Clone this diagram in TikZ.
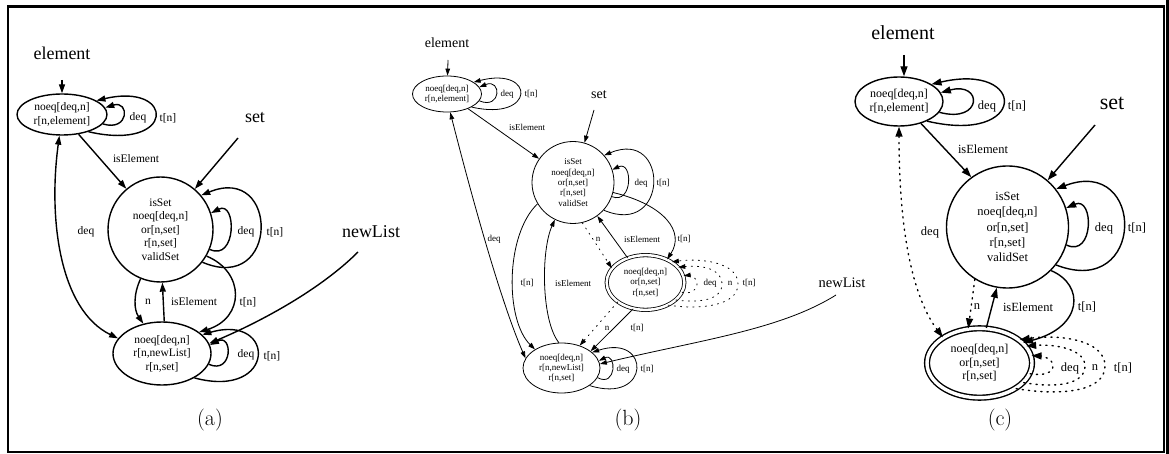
\documentclass[tikz,border=0pt]{standalone}
\usepackage{fontspec}
\newfontfamily\tms{Liberation Serif}
\usetikzlibrary{arrows.meta,shapes.geometric}
\newcommand\gfA{\tms\fontsize{11.5}{13.5}\selectfont}
\newcommand\gfB{\tms\fontsize{9}{10.4}\selectfont}
\newcommand\gfC{\tms\fontsize{12}{13.5}\selectfont}
\newcommand\gfCc{\tms\fontsize{12.5}{15.3}\selectfont}
\newcommand\gfCe{\tms\fontsize{12.5}{14}\selectfont}
\tikzset{
  stell/.style={ellipse, draw, inner sep=0pt, align=center},
  stcirc/.style={circle, draw, inner sep=0pt, align=center},
  lab/.style={inner sep=0pt},
  dotline/.style={dash pattern=on 1.2pt off 5pt, line cap=round},
  panelcap/.style={inner sep=0pt, font=\fontsize{22}{24}\selectfont},
}
\begin{document}
\begin{tikzpicture}[x=1pt,y=-1pt]
\useasboundingbox (0,0) rectangle (1169,454);
% frame
\draw[line width=2.2pt] (8,6.5) rectangle (1164,452);
\fill (1166,0) rectangle (1169,454);

% ---------------- (a) ----------------
\begin{scope}[line width=1.4pt, >={Triangle[length=9pt,width=6pt]},
  every node/.append style={font=\gfA}]
\node[stell, minimum width=90pt, minimum height=41pt] (aE) at (62,114.5) {noeq[deq,n]\\r[n,element]};
\node[stcirc, minimum size=105pt] (aS) at (160.5,229.5) {isSet\\noeq[deq,n]\\or[n,set]\\r[n,set]\\validSet};
\node[stell, minimum width=98pt, minimum height=63pt] (aL) at (162,353.5) {noeq[deq,n]\\r[n,newList]\\r[n,set]};
\node[lab, font=\tms\fontsize{18}{20}\selectfont] (aEl) at (62,53) {element};
\node[lab, font=\tms\fontsize{18}{20}\selectfont] (aSl) at (255,118) {set};
\node[lab, font=\tms\fontsize{18}{20}\selectfont] (aNl) at (371,232) {newList};
\coordinate (aEs) at (62,80);
\coordinate (aSs) at (238,138);
\coordinate (aNs) at (358,252);
\draw[->] (aEs) -- (aE);
\draw[->] (aSs) -- (aS);
\draw[->] (aNs) .. controls (320,290) and (260,322) .. (aL.12);
% loops
\draw[->] (aE.-13) .. controls (129.6,132) and (129.6,100) .. (aE.9);
\draw[->] (aE.-33) .. controls (176,152) and (176,82) .. (aE.22);
\draw[->] (aS.-22) .. controls (236.7,262) and (236.7,200) .. (aS.18);
\draw[->] (aS.-38) .. controls (279.6,295) and (279.6,163) .. (aS.40);
\draw[->] (aL.-13) .. controls (233,375) and (233,333) .. (aL.10);
\draw[->] (aL.-37) .. controls (276.8,400) and (276.8,313) .. (aL.25);
% edges
\draw[->] (aE.-50) -- (aS.130);
\draw[->] (aS.-112) .. controls (133,295) and (134,310) .. (aL.122);
\draw[->] (aL.86) -- (aS.-88);
\draw[->] (aS.-30) .. controls (245,272) and (245,318) .. (aL.30);
\draw[<->] (aE.-97) .. controls (48,220) and (60,310) .. (aL.161);
% labels
\node[lab] (aEd) at (138,118) {deq};
\node[lab] (aEt) at (168,118) {t[n]};
\node[lab] (aSd) at (246,232) {deq};
\node[lab] (aSt) at (275,232) {t[n]};
\node[lab] (aLd) at (246,355) {deq};
\node[lab] (aLt) at (272,356) {t[n]};
\node[lab] (aIe1) at (136,159) {isElement};
\node[lab] (aDq) at (86,232) {deq};
\node[lab] (aN) at (148,302) {n};
\node[lab] (aIe2) at (194,302) {isElement};
\node[lab] (aTn) at (248,302) {t[n]};
\node[panelcap] (aCap) at (210,420) {(a)};
\end{scope}

% ---------------- (b) ----------------
\begin{scope}[line width=0.8pt, >={Triangle[length=7pt,width=4.6pt]},
  every node/.append style={font=\gfB}]
\node[stell, minimum width=69pt, minimum height=36pt] (bE) at (447,94) {noeq[deq,n]\\r[n,element]};
\node[stcirc, minimum size=82pt] (bS) at (573,182.5) {isSet\\noeq[deq,n]\\or[n,set]\\r[n,set]\\validSet};
\node[stell, double, double distance=2.5pt, minimum width=77.7pt, minimum height=54.7pt] (bF) at (645.5,282.5) {noeq[deq,n]\\or[n,set]\\r[n,set]};
\node[stell, minimum width=77pt, minimum height=50pt] (bL) at (561.5,368) {noeq[deq,n]\\r[n,newList]\\r[n,set]};
\node[lab, font=\tms\fontsize{14}{16}\selectfont] (bEl) at (447,43) {element};
\node[lab, font=\tms\fontsize{14}{16}\selectfont] (bSl) at (599,95) {set};
\node[lab, font=\tms\fontsize{14.5}{16}\selectfont] (bNl) at (842,283) {newList};
\coordinate (bEs) at (448,60);
\coordinate (bSs) at (594,110);
\coordinate (bNs) at (836,295);
\draw[->] (bEs) -- (bE);
\draw[->] (bSs) -- (bS);
\draw[->] (bNs) .. controls (780,330) and (700,340) .. (bL.6);
% loops
\draw[->] (bE.-12) .. controls (501.7,110) and (501.7,78) .. (bE.12);
\draw[->] (bE.-28) .. controls (535.9,122) and (535.9,66) .. (bE.24);
\draw[->] (bS.-20) .. controls (633,205) and (633,160) .. (bS.18);
\draw[->] (bS.-42) .. controls (669.4,238) and (669.4,128) .. (bS.41);
\draw[->] (bL.-15) .. controls (616.8,388) and (616.8,352) .. (bL.11);
\draw[->] (bL.-32) .. controls (651.2,405) and (651.2,333) .. (bL.27);
\draw[->, dotline] (bF.-15) .. controls (690,294) and (697,291) .. (697,284)
                             .. controls (697,277) and (690,275) .. (bF.10);
\draw[->, dotline] (bF.-30) .. controls (700,303) and (722,300) .. (722,284)
                             .. controls (722,268) and (700,265) .. (bF.25);
\draw[->, dotline] (bF.-45) .. controls (700,310) and (738,306) .. (738,284)
                             .. controls (738,262) and (700,258) .. (bF.38);
% edges
\draw[->] (bE.-35) -- (bS.145);
\draw[->, dotline] (bS.-77) -- (bF.157);
\draw[->] (bF.126) -- (bS.-54);
\draw[->] (bS.-14) .. controls (665,205) and (685,232) .. (bF.47);
\draw[->, dotline] (bF.-145) -- (bL.51);
\draw[->] (bF.-115) -- (bL.30);
\draw[->] (bS.-149) .. controls (505,235) and (505,320) .. (bL.145);
\draw[->] (bL.96) .. controls (541,320) and (541,250) .. (bS.-116);
\draw[<->] (bE.-80) .. controls (470,190) and (500,300) .. (bL.165);
% labels
\node[lab] (bEd) at (507,94) {deq};
\node[lab] (bEt) at (531,94) {t[n]};
\node[lab] (bSd) at (641,183) {deq};
\node[lab] (bSt) at (663,183) {t[n]};
\node[lab] (bFd) at (710,283) {deq};
\node[lab] (bFn) at (730,283) {n};
\node[lab] (bFt) at (749,283) {t[n]};
\node[lab] (bLd) at (623,369) {deq};
\node[lab] (bLt) at (647,369) {t[n]};
\node[lab] (bIe1) at (527,127) {isElement};
\node[lab] (bN1) at (598,239) {n};
\node[lab] (bIe2) at (642,239) {isElement};
\node[lab] (bT1) at (684,239) {t[n]};
\node[lab] (bN2) at (607,328) {n};
\node[lab] (bT2) at (637,328) {t[n]};
\node[lab] (bT3) at (527,283) {t[n]};
\node[lab] (bIe3) at (573,283) {isElement};
\node[lab] (bDq) at (494,239) {deq};
\node[panelcap] (bCap) at (628,420) {(b)};
\end{scope}

% ---------------- (c) ----------------
\begin{scope}[line width=1.4pt, >={Triangle[length=10pt,width=7pt]},
  every node/.append style={font=\gfCe}]
\node[stell, font=\gfC, minimum width=88pt, minimum height=49pt] (cE) at (899,101.5) {noeq[deq,n]\\r[n,element]};
\node[stcirc, font=\gfCc, minimum size=122pt] (cS) at (1007.5,227) {isSet\\noeq[deq,n]\\or[n,set]\\r[n,set]\\validSet};
\node[stell, font=\gfC, double, double distance=3.4pt, minimum width=105pt, minimum height=69.4pt] (cF) at (979.5,363) {noeq[deq,n]\\or[n,set]\\r[n,set]};
\node[lab, font=\tms\fontsize{20}{22}\selectfont] (cEl) at (903,33) {element};
\node[lab, font=\tms\fontsize{22}{24}\selectfont] (cSl) at (1112,103) {set};
\coordinate (cEs) at (904,55);
\coordinate (cSs) at (1095,125);
\draw[->] (cEs) -- (cEs |- cE.north);
\draw[->] (cSs) -- (cS);
% loops
\draw[->] (cE.-15) .. controls (982.9,124) and (982.9,81) .. (cE.12);
\draw[->] (cE.-35) .. controls (1027.8,145) and (1027.8,62) .. (cE.28);
\draw[->] (cS.-17) .. controls (1094.1,258) and (1094.1,196) .. (cS.18);
\draw[->] (cS.-38) .. controls (1146,300) and (1146,155) .. (cS.38);
\draw[->, dotline] (cF.-12) .. controls (1043,376) and (1053,373) .. (1053,366)
                             .. controls (1053,359) and (1043,356) .. (cF.8);
\draw[->, dotline] (cF.-24) .. controls (1055,388) and (1085,385) .. (1085,366)
                             .. controls (1085,349) and (1055,344) .. (cF.20);
\draw[->, dotline] (cF.-35) .. controls (1060,396) and (1105,392) .. (1105,366)
                             .. controls (1105,340) and (1060,334) .. (cF.30);
% edges
\draw[->] (cE.-45) -- (cS.126);
\draw[<->, dotline] (cE.-90) .. controls (899,240) and (915,300) .. (cF.145);
\draw[->, dotline] (cS.-122) -- (cF.108);
\draw[->] (cF.79) -- (cS.-100);
\draw[->] (cS.-45) .. controls (1085,285) and (1083,327) .. (cF.25);
% labels
\node[lab] (cEd) at (987,106) {deq};
\node[lab] (cEt) at (1017,106) {t[n]};
\node[lab] (cSd) at (1104,228) {deq};
\node[lab] (cSt) at (1137,228) {t[n]};
\node[lab] (cFd) at (1070,368) {deq};
\node[lab] (cFn) at (1095,368) {n};
\node[lab] (cFt) at (1123,368) {t[n]};
\node[lab] (cIe1) at (983,149) {isElement};
\node[lab] (cDq) at (930,232) {deq};
\node[lab] (cN) at (977,307) {n};
\node[lab] (cIe2) at (1028,307) {isElement};
\node[lab] (cTn) at (1087,307) {t[n]};
\node[panelcap] (cCap) at (1000,420) {(c)};
\end{scope}
\end{tikzpicture}
\end{document}
